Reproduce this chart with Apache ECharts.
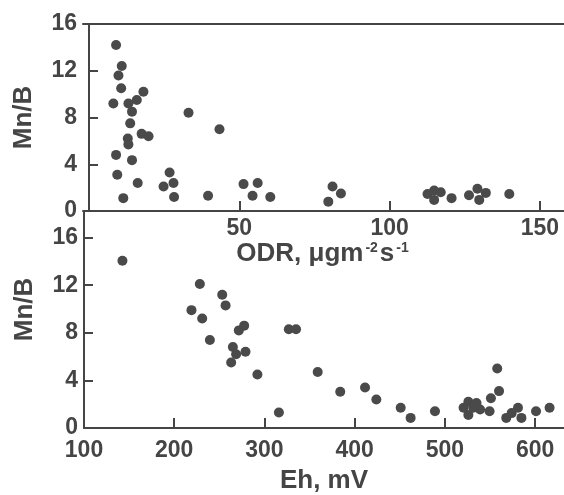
<!DOCTYPE html>
<html>
<head>
<meta charset="utf-8">
<script src="https://cdn.jsdelivr.net/npm/echarts@6/dist/echarts.min.js"></script>
<style>html,body{margin:0;padding:0;background:#fff}#c{width:564px;height:495px}</style>
</head>
<body>
<div id="c"></div>
<script>
// Top panel: ODR (µg m^-2 s^-1) vs Mn/B
var odrPoints = [
  [9,14.2],[10.9,12.4],[9.8,11.6],[10.7,10.5],[8.1,9.2],[18.1,10.2],[13.1,9.2],[15.9,9.5],
  [14.3,8.5],[33.1,8.4],[13.7,7.5],[12.9,6.2],[13.1,5.7],[17.5,6.6],[19.8,6.4],[43.4,7.0],
  [9,4.8],[14.3,4.35],[9.4,3.1],[16.2,2.4],[26.8,3.3],[24.8,2.1],[28.1,2.4],[28.3,1.2],
  [11.4,1.1],[39.6,1.3],[51.4,2.3],[56.1,2.4],[54.4,1.3],[60.3,1.2],[81,2.1],[83.8,1.5],
  [79.6,0.8],[112.6,1.45],[114.8,1.75],[114.8,0.95],[117,1.6],[120.6,1.1],[126.4,1.35],
  [129.2,1.9],[132,1.55],[129.8,0.95],[139.8,1.45]
];
// Bottom panel: Eh (mV) vs Mn/B
var ehPoints = [
  [142.6,14.05],[228.4,12.1],[219.1,9.9],[231,9.2],[253.2,11.2],[256.9,10.3],[239.5,7.4],
  [271.6,8.2],[277.5,8.6],[265,6.8],[268.6,6.2],[263.1,5.5],[279,6.4],[292.2,4.5],[316,1.3],
  [327,8.3],[335,8.3],[359,4.7],[384,3.05],[411.5,3.4],[424,2.4],[451,1.7],[462,0.85],
  [489,1.4],[526,2.2],[535,2.1],[520.7,1.7],[531.5,1.7],[539,1.55],[526,1.1],[549.5,1.4],
  [551,2.5],[560,3.1],[558,5.0],[568,0.85],[581,1.7],[574,1.25],[584.8,0.85],[601,1.4],[616,1.7]
];
var odrTicks = [50, 100, 150];
var ehTicks = [100, 200, 300, 400, 500, 600];
var mnTicks = [0, 4, 8, 12, 16];

var C = '#454545';
var FONT = 'Liberation Sans, Arial, sans-serif';
var lineStyle = {color: C, width: 2};
var labelStyle = {color: C, fontSize: 23, fontWeight: 'bold', fontFamily: FONT};
var nameStyle = {color: C, fontSize: 26, fontWeight: 'bold', fontFamily: FONT};

var chart = echarts.init(document.getElementById('c'), null, {renderer: 'canvas'});
chart.setOption({
  animation: false,
  backgroundColor: '#fff',
  grid: [
    {left: 83, top: 24, width: 481, height: 187},
    {left: 84, top: 211, width: 480, height: 221}
  ],
  xAxis: [
    {
      gridIndex: 0, type: 'value', min: -2, max: 158,
      axisLine: {show: true, lineStyle: lineStyle},
      axisTick: {show: true, inside: true, length: 10, lineStyle: lineStyle, customValues: odrTicks},
      axisLabel: Object.assign({margin: 6, customValues: odrTicks}, labelStyle),
      splitLine: {show: false},
      name: '{a|ODR, \u03bcgm}{s|-2}{a|s}{s|-1}',
      nameLocation: 'middle', nameGap: 29,
      nameTextStyle: {rich: {
        a: nameStyle,
        s: {color: C, fontSize: 14, fontWeight: 'bold', fontFamily: FONT, verticalAlign: 'top', padding: [0, 2, 12, 2]}
      }}
    },
    {
      gridIndex: 0, type: 'value', min: -2, max: 158, position: 'top',
      axisLine: {show: true, lineStyle: lineStyle},
      axisTick: {show: false}, axisLabel: {show: false}, splitLine: {show: false}
    },
    {
      gridIndex: 1, type: 'value', min: 100, max: 632,
      axisLine: {show: true, lineStyle: lineStyle},
      axisTick: {show: true, inside: true, length: 10, lineStyle: lineStyle, customValues: ehTicks},
      axisLabel: Object.assign({margin: 11, customValues: ehTicks}, labelStyle),
      splitLine: {show: false},
      name: 'Eh, mV', nameLocation: 'middle', nameGap: 40,
      nameTextStyle: nameStyle
    }
  ],
  yAxis: [
    {
      gridIndex: 0, type: 'value', min: 0, max: 16,
      axisLine: {show: true, lineStyle: lineStyle},
      axisTick: {show: true, inside: true, length: 9, lineStyle: lineStyle, customValues: mnTicks},
      axisLabel: Object.assign({margin: 6, customValues: mnTicks}, labelStyle),
      splitLine: {show: false},
      name: 'Mn/B', nameLocation: 'middle', nameGap: 46, nameRotate: 90,
      nameTextStyle: nameStyle
    },
    {
      gridIndex: 1, type: 'value', min: 0, max: 18.23,
      axisLine: {show: true, lineStyle: lineStyle},
      axisTick: {show: true, inside: true, length: 9, lineStyle: lineStyle, customValues: mnTicks},
      axisLabel: Object.assign({margin: 6, customValues: mnTicks}, labelStyle),
      splitLine: {show: false},
      name: 'Mn/B', nameLocation: 'middle', nameGap: 46, nameRotate: 90,
      nameTextStyle: Object.assign({padding: [0, 0, 0, 20]}, nameStyle)
    }
  ],
  series: [
    {type: 'scatter', xAxisIndex: 0, yAxisIndex: 0, data: odrPoints, symbolSize: 10,
     itemStyle: {color: '#4a4a4a', opacity: 1}},
    {type: 'scatter', xAxisIndex: 2, yAxisIndex: 1, data: ehPoints, symbolSize: 10,
     itemStyle: {color: '#4a4a4a', opacity: 1}}
  ]
});
</script>
</body>
</html>
